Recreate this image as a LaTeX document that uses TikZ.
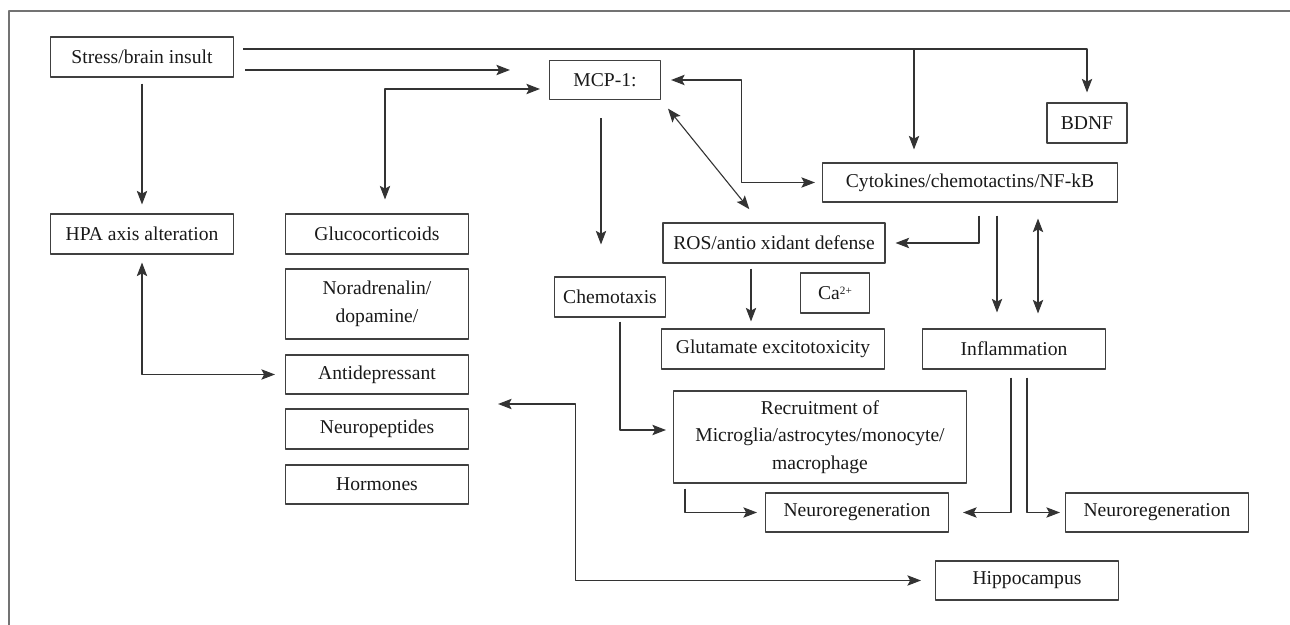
\documentclass[tikz,border=0pt]{standalone}
\usepackage{fontspec}
\setmainfont{Liberation Serif}
\usetikzlibrary{arrows.meta,calc}
\tikzset{
	box/.style={draw=black!75, line width=0.55pt, minimum width=91.5pt, minimum height=20pt, inner sep=1pt, align=center, text=black!90},
	link/.style={draw=black!80, line width=0.55pt},
}
\begin{document}
\begin{tikzpicture}[x=0.5pt, y=-0.5pt, font=\fontsize{9.8}{13.8}\selectfont, line join=round, >={Stealth[length=6.8pt,width=5.2pt,inset=1.4pt]}]
	%Khung.
	\useasboundingbox (0,0) rectangle (1290,625);
	\draw[black!55, line width=0.8pt] (9,625)--(9,11)--(1290,11);
	%Cac hop.
	\node[box] (stress) at (142,57) {Stress/brain insult};
	\node[box, minimum width=55.5pt, minimum height=19.5pt] (mcp) at (605,80) {MCP-1:};
	\node[box, minimum width=40pt] (bdnf) at (1087,123) {BDNF};
	\node[box, minimum width=147.5pt, minimum height=19.5pt] (cyto) at (970,182.5) {Cytokines/chemotactins/NF-kB};
	\node[box] (hpa) at (142,234) {HPA axis alteration};
	\node[box] (gluco) at (377,234) {Glucocorticoids};
	\node[box, minimum height=35pt] (nora) at (377,304) {Noradrenalin/\\dopamine/};
	\node[box, minimum height=19.5pt] (antidep) at (377,374.5) {Antidepressant};
	\node[box] (neuropep) at (377,429) {Neuropeptides};
	\node[box, minimum height=19.5pt] (hormon) at (377,484.5) {Hormones};
	\node[box, minimum width=111pt] (ros) at (774,243) {ROS/antio xidant defense};
	\node[box, minimum width=55.5pt] (chemo) at (610,297) {Chemotaxis};
	\node[box, minimum width=34.5pt] (ca) at (835,293) {Ca\raisebox{2.6pt}{\fontsize{5.6}{6}\selectfont 2+}};
	\node[box, minimum width=111.5pt] (glut) at (773,349) {Glutamate excitotoxicity};
	\node[box] (infl) at (1014,349) {Inflammation};
	\node[box, minimum width=146.5pt, minimum height=46pt] (recruit) at (820,437) {Recruitment of\\Microglia/astrocytes/monocyte/\\macrophage};
	\node[box, minimum height=19.5pt] (neuroa) at (857,512.5) {Neuroregeneration};
	\node[box, minimum height=19.5pt] (neurob) at (1157,512.5) {Neuroregeneration};
	\node[box, minimum height=19.5pt] (hippo) at (1027,580.5) {Hippocampus};
	%Tu Stress/brain insult.
	\coordinate (fork) at (914,49);
	\draw[link,->,shorten >=5pt] ($(stress.east)+(9,-8)$) -| (bdnf.north);
	\draw[link,->,shorten >=6.5pt] (fork) -- (fork |- cyto.north);
	\draw[link,->,shorten >=19.5pt] ($(stress.east)+(11,13)$) -- ($(mcp.west)+(0,-10)$);
	\draw[link,->,shorten <=3pt,shorten >=4.5pt] (stress.south) -- (hpa.north);
	%Tu MCP-1.
	\draw[link,<->,shorten <=4.5pt,shorten >=7pt] ($(mcp.west)+(0,9)$) -| ($(gluco.north)+(8,0)$);
	\draw[link,<->,shorten <=5pt,shorten >=3.5pt] (mcp.east) -| ($(mcp.east)!.5!(cyto.west)$) |- (cyto.west);
	\draw[link,<->,shorten <=5.5pt,shorten >=8.5pt] (mcp.south east) -- ($(ros.north)+(-14,0)$);
	\draw[link,->,shorten <=9pt,shorten >=16pt] ($(mcp.south)+(-4,0)$) -- ($(chemo.north)+(-9,0)$);
	%Tu Cytokines.
	\draw[link,->,shorten <=6.5pt,shorten >=5pt] ($(cyto.south)+(9,0)$) |- (ros.east);
	\draw[link,->,shorten <=6.5pt,shorten >=8pt] ($(cyto.south)+(27,0)$) -- ($(infl.north)+(-17,0)$);
	\draw[link,<->,shorten <=8pt,shorten >=7.5pt] ($(cyto.south)+(68,0)$) -- ($(infl.north)+(24,0)$);
	\draw[link,->,shorten <=2.5pt,shorten >=3.5pt] ($(ros.south)+(-23,0)$) -- ($(glut.north)+(-22,0)$);
	%Phan duoi.
	\draw[link,<->,shorten <=4pt,shorten >=5pt] (hpa.south) |- (antidep.west);
	\draw[link,->,shorten <=2pt,shorten >=3.5pt] ($(chemo.south)+(10,0)$) |- ($(recruit.west)+(0,-7)$);
	\draw[link,->,shorten <=2.5pt,shorten >=4pt] ($(recruit.south west)+(12,0)$) |- (neuroa.west);
	\draw[link,->,shorten <=4pt,shorten >=7pt] ($(infl.south)+(-3,0)$) |- (neuroa.east);
	\draw[link,->,shorten <=4pt,shorten >=2.5pt] ($(infl.south)+(13,0)$) |- (neurob.west);
	\draw[link,<->,shorten <=14.5pt,shorten >=7pt] ($(neuropep.east)+(0,-25)$) -- ++(106,0) |- (hippo.west);
\end{tikzpicture}
\end{document}
